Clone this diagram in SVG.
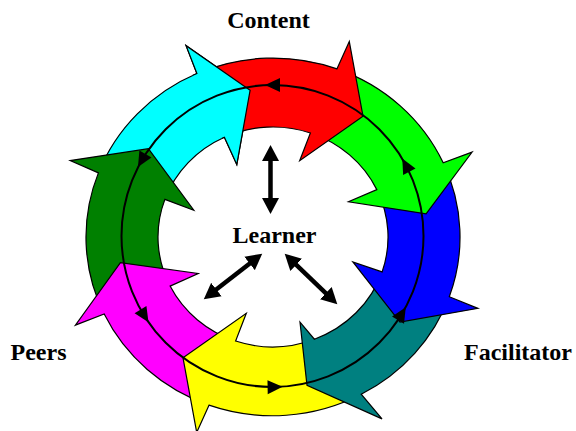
<svg xmlns="http://www.w3.org/2000/svg" width="576" height="431" viewBox="0 0 576 431">
<style>
.arr{stroke:#000;stroke-width:1.2;stroke-linejoin:miter;vector-effect:non-scaling-stroke}
.lbl{font-family:"Liberation Serif","Times New Roman",serif;font-weight:bold;font-size:24px;fill:#000;text-anchor:middle}
.ring{fill:none;stroke:#000;stroke-width:2}
.dbl{stroke:#000;stroke-width:4.5;fill:none}
</style>
<defs>
<path id="ah" d="M -7.5 0 L 7.5 -7 L 7.5 7 Z" fill="#000"/>
<marker id="mh" viewBox="0 -9 17 18" markerWidth="17" markerHeight="18" refX="1" refY="0" orient="auto-start-reverse" markerUnits="userSpaceOnUse">
<path d="M0,-8.5 L16,0 L0,8.5 Z" fill="#000"/>
</marker>
</defs>
<rect width="576" height="431" fill="#fff"/>
<g id="cycle" transform="translate(273 237) scale(1 0.957)">
<g id="cyan"><path class="arr" fill="#00FFFF" d="M -174.6 -67.0 A 187 187 0 0 1 -76.1 -170.8 L -86.9 -199.9 L -22.9 -153.3 L -36.2 -75.8 L -48.6 -104.2 A 115 115 0 0 0 -108.1 -39.3 Z"/></g>
<g id="darkgreen"><path class="arr" fill="#008000" d="M -168.8 80.5 A 187 187 0 0 1 -174.6 -67.0 L -202.8 -79.9 L -124.6 -92.2 L -79.2 -28.0 L -108.1 -39.3 A 115 115 0 0 0 -102.9 51.3 Z"/></g>
<g id="magenta"><path class="arr" fill="#FF00FF" d="M -64.0 175.7 A 187 187 0 0 1 -168.8 80.5 L -197.6 92.1 L -152.6 26.9 L -74.8 38.1 L -102.9 51.3 A 115 115 0 0 0 -37.4 108.7 Z"/></g>
<g id="yellow"><path class="arr" fill="#FFFF00" d="M 88.2 164.3 A 187 187 0 0 1 -64.0 175.7 L -76.3 204.2 L -90.0 126.2 L -26.7 79.7 L -37.4 108.7 A 115 115 0 0 0 41.4 106.8 Z"/></g>
<g id="teal"><path class="arr" fill="#008080" d="M 176.3 62.4 A 187 187 0 0 1 88.2 164.3 L 109 190 L 34 155 L 27 89 L 41.4 106.8 A 115 115 0 0 0 109.1 36.5 Z"/></g>
<g id="blue"><path class="arr" fill="#0000FF" d="M 170.2 -77.5 A 187 187 0 0 1 176.3 62.4 L 204.9 74.6 L 127.0 88.9 L 79.9 26.0 L 109.1 36.5 A 115 115 0 0 0 103.8 -49.5 Z"/></g>
<g id="green"><path class="arr" fill="#00FF00" d="M 64.0 -175.7 A 187 187 0 0 1 170.2 -77.5 L 199.1 -88.7 L 153.1 -24.2 L 75.5 -36.8 L 103.8 -49.5 A 115 115 0 0 0 37.4 -108.7 Z"/></g>
<g id="red"><path class="arr" fill="#FF0000" d="M -76.1 -170.8 A 187 187 0 0 1 64.0 -175.7 L 76.3 -204.2 L 90.0 -126.2 L 26.7 -79.7 L 37.4 -108.7 A 115 115 0 0 0 -48.6 -104.2 Z"/></g>
<g id="cyan-head">
<path fill="#00FFFF" d="M -80.5 -168.8 A 187 187 0 0 1 -76.1 -170.8 L -86.9 -199.9 L -22.9 -153.3 L -36.2 -75.8 L -48.6 -104.2 A 115 115 0 0 0 -51.3 -102.9 Z"/>
<path class="arr" fill="none" d="M -80.5 -168.8 A 187 187 0 0 1 -76.1 -170.8 L -86.9 -199.9 L -22.9 -153.3 L -36.2 -75.8 L -48.6 -104.2 A 115 115 0 0 0 -51.3 -102.9"/>
</g>
</g>
<g id="connectors">
<circle class="ring" cx="272.5" cy="236" r="151"/>
<use href="#ah" transform="translate(272.5 85) rotate(0)"/>
<use href="#ah" transform="translate(141.7 160.5) rotate(-60)"/>
<use href="#ah" transform="translate(144.5 316) rotate(238)"/>
<use href="#ah" transform="translate(275.1 387) rotate(179)"/>
<use href="#ah" transform="translate(401.9 313.8) rotate(121)"/>
<use href="#ah" transform="translate(405.8 165.1) rotate(62)"/>
<line class="dbl" x1="270.5" y1="160" x2="270.5" y2="199" marker-start="url(#mh)" marker-end="url(#mh)"/>
<line class="dbl" x1="250.4" y1="262.9" x2="215.6" y2="290.1" marker-start="url(#mh)" marker-end="url(#mh)"/>
<line class="dbl" x1="295.5" y1="264.1" x2="326.5" y2="293.9" marker-start="url(#mh)" marker-end="url(#mh)"/>
</g>
<g id="content"><text class="lbl" x="268.5" y="28">Content</text></g>
<g id="learner"><text class="lbl" x="274.5" y="243">Learner</text></g>
<g id="peers"><text class="lbl" x="38.5" y="360">Peers</text></g>
<g id="facilitator"><text class="lbl" x="518" y="360">Facilitator</text></g>
</svg>
